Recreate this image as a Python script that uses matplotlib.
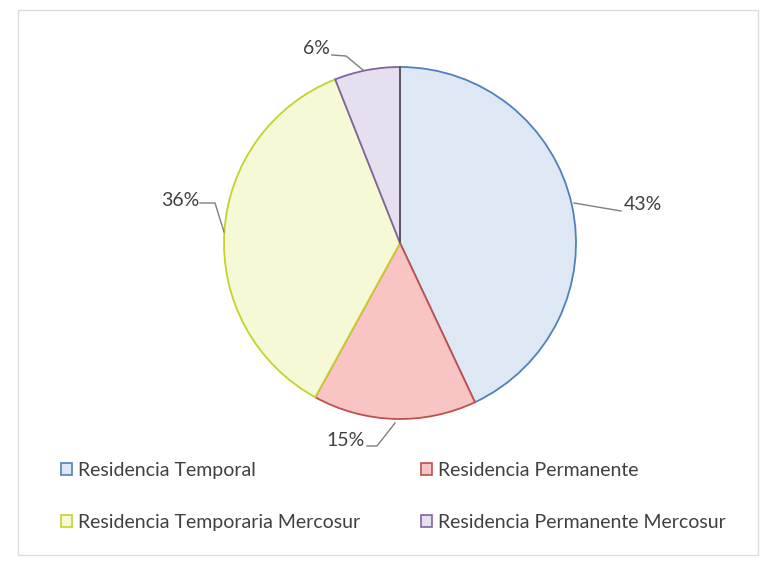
import numpy as np
import matplotlib.pyplot as plt
import matplotlib.patches as patches

categories = ['Residencia Temporal', 'Residencia Permanente',
              'Residencia Temporaria Mercosur', 'Residencia Permanente Mercosur']
shares = [43, 15, 36, 6]
labels = ['43%', '15%', '36%', '6%']

fills = ['#dde8f4', '#f8c4c4', '#f6f9d6', '#e6dff0']
edges = ['#4f81bd', '#c0504d', '#c6d22a', '#8064a2']

plt.rcParams['font.family'] = ['Lato', 'DejaVu Sans']

fig = plt.figure(figsize=(7.73, 5.65), dpi=100)
ax = fig.add_axes([0, 0, 1, 1])

cx, cy, r = 400, 243, 176
wedges, _ = ax.pie(shares, center=(cx, cy), radius=r, startangle=-90,
                   counterclock=True, colors=fills, frame=True,
                   wedgeprops=dict(linewidth=1.3, edgecolor='#555555'))
for w, ec in zip(wedges, edges):
    w.set_edgecolor(ec)
ax.plot([cx, cx], [cy, cy - r], color='#555555', lw=1.2)
ax.set_xlim(0, 773)
ax.set_ylim(565, 0)
ax.axis('off')

# label positions and leader lines in pixel space
text_pos = [(624, 205), (365, 440), (199, 200), (330, 48)]
text_ha = ['left', 'right', 'right', 'right']
leaders = [[(574, 203), (621, 211)],
           [(395, 423), (377, 446), (367, 446)],
           [(224, 232), (215, 203), (200, 203)],
           [(363, 70), (346, 56), (332, 55)]]
for lab, (tx, ty), ha, pts in zip(labels, text_pos, text_ha, leaders):
    xs, ys = zip(*pts)
    ax.plot(xs, ys, color='#7f7f7f', lw=1)
    ax.text(tx, ty, lab, ha=ha, va='center', fontsize=14, color='#404040')

handles = [patches.Patch(facecolor=f, edgecolor=e, lw=1.2) for f, e in zip(fills, edges)]
order = [0, 2, 1, 3]
leg = ax.legend([handles[i] for i in order], [categories[i] for i in order],
                ncol=2, loc='upper left', bbox_to_anchor=(0.056, 0.214),
                frameon=False, fontsize=14, handlelength=0.6, handleheight=0.6,
                handletextpad=0.3, columnspacing=3.1, labelspacing=1.8)
for t in leg.get_texts():
    t.set_color('#404040')

fig.patches.append(patches.Rectangle((18 / 773, 10 / 565), 740 / 773, 545 / 565,
                                     transform=fig.transFigure, fill=False,
                                     edgecolor='#dddddd', lw=1))

fig.savefig('out.png', dpi=100, facecolor='white')
